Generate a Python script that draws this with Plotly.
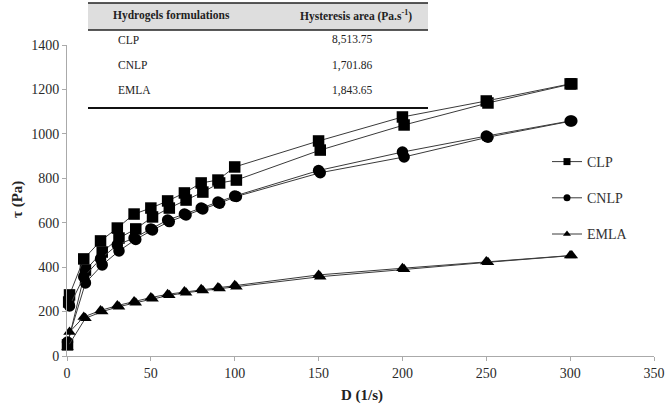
import plotly.graph_objects as go

# ---- data ----
clp_up_D = [0.3, 11, 21, 31, 41, 51, 61, 71, 81, 91, 101, 151, 201, 251, 301]
clp_up_T = [50, 387, 468, 531, 572, 626, 666, 702, 738, 779, 792, 927, 1040, 1139, 1225]
clp_dn_D = [300, 250, 200, 150, 100, 90, 80, 70, 60, 50, 40, 30, 20, 10, 1.5, 1]
clp_dn_T = [1225, 1148, 1076, 968, 851, 792, 779, 734, 698, 666, 639, 576, 518, 437, 275, 243]

cnlp_up_D = [0.3, 11, 21, 31, 41, 51, 61, 71, 81, 91, 101, 151, 201, 251, 301]
cnlp_up_T = [63, 329, 410, 473, 525, 567, 605, 635, 662, 688, 718, 825, 896, 985, 1058]
cnlp_dn_D = [300, 250, 200, 150, 100, 90, 80, 70, 60, 50, 40, 30, 20, 10, 1.5]
cnlp_dn_T = [1058, 990, 918, 835, 720, 693, 666, 639, 612, 572, 531, 500, 437, 356, 225]

emla_up_D = [0.3, 11, 21, 31, 41, 51, 61, 71, 81, 91, 101, 151, 201, 251, 301]
emla_up_T = [40, 170, 200, 222, 240, 258, 273, 285, 295, 304, 312, 357, 390, 422, 452]
emla_dn_D = [300, 250, 200, 150, 100, 90, 80, 70, 60, 50, 40, 30, 20, 10, 1.5]
emla_dn_T = [452, 425, 395, 365, 318, 308, 300, 290, 278, 263, 245, 227, 205, 176, 108]

series_names = ["CLP", "CNLP", "EMLA"]
table_header = ["Hydrogels formulations", "Hysteresis area (Pa.s<sup>-1</sup>)"]
table_values = ["8,513.75", "1,701.86", "1,843.65"]

x_ticks = [0, 50, 100, 150, 200, 250, 300, 350]
y_ticks = [0, 200, 400, 600, 800, 1000, 1200, 1400]

FONT = "Liberation Serif"
LINE = dict(color="#3a3a3a", width=1)

fig = go.Figure()

loops = [
    ("CLP", "square", 11.5, clp_up_D, clp_up_T, clp_dn_D, clp_dn_T),
    ("CNLP", "circle", 11.5, cnlp_up_D, cnlp_up_T, cnlp_dn_D, cnlp_dn_T),
    ("EMLA", "triangle-up", 11, emla_up_D, emla_up_T, emla_dn_D, emla_dn_T),
]
for name, sym, sz, uD, uT, dD, dT in loops:
    for xs, ys in ((uD, uT), (dD, dT)):
        fig.add_trace(go.Scatter(
            x=xs, y=ys, mode="lines+markers", showlegend=False,
            line=LINE, marker=dict(symbol=sym, size=sz, color="black"),
            cliponaxis=False,
        ))

# legend entries (smaller markers as in the reference)
for i, (name, sym, *_rest) in enumerate(loops):
    fig.add_trace(go.Scatter(
        x=[None], y=[None], mode="lines+markers", name=name,
        legendgroup=name, line=LINE,
        marker=dict(symbol=sym, size=7, color="black"),
    ))

# ---- pixel helpers for paper coords (plot area 67..654 x, 45..356 y) ----
def px_x(p):
    return (p - 67) / 587.0

def px_y(p):
    return (356 - p) / 311.0

shapes = [
    dict(type="rect", xref="paper", yref="paper", x0=px_x(88), x1=px_x(428),
         y0=px_y(30), y1=px_y(3), fillcolor="#dedede", line=dict(width=0), layer="below"),
    dict(type="line", xref="paper", yref="paper", x0=px_x(88), x1=px_x(428),
         y0=px_y(3), y1=px_y(3), line=dict(color="#222", width=1.5)),
    dict(type="line", xref="paper", yref="paper", x0=px_x(88), x1=px_x(428),
         y0=px_y(30), y1=px_y(30), line=dict(color="#222", width=1.5)),
    dict(type="line", xref="paper", yref="paper", x0=px_x(88), x1=px_x(428),
         y0=px_y(108), y1=px_y(108), line=dict(color="#111", width=2)),
]

ann = [
    dict(text="<b>" + table_header[0] + "</b>", x=px_x(111), y=px_y(15),
         xanchor="left", yanchor="middle"),
    dict(text="<b>" + table_header[1] + "</b>", x=px_x(298), y=px_y(15),
         xanchor="left", yanchor="middle"),
]
row_y = [40, 65, 90]
for nm, val, ry in zip(series_names, table_values, row_y):
    ann.append(dict(text=nm, x=px_x(116), y=px_y(ry), xanchor="left", yanchor="middle"))
    ann.append(dict(text=val, x=px_x(352), y=px_y(ry), xanchor="center", yanchor="middle"))
for a in ann:
    a.update(xref="paper", yref="paper", showarrow=False,
             font=dict(family=FONT, size=11.5, color="#222"))

# axis titles as annotations
ann.append(dict(text="<b>D (1/s)</b>", x=px_x(362), y=px_y(395), xref="paper", yref="paper",
                showarrow=False, xanchor="center", yanchor="middle",
                font=dict(family=FONT, size=15, color="#222")))
ann.append(dict(text="<b>τ (Pa)</b>", x=px_x(17), y=px_y(200), xref="paper", yref="paper",
                showarrow=False, xanchor="center", yanchor="middle", textangle=-90,
                font=dict(family=FONT, size=15, color="#222")))

fig.update_layout(
    width=666, height=408,
    margin=dict(l=67, r=12, t=45, b=52, autoexpand=False),
    paper_bgcolor="white", plot_bgcolor="white",
    font=dict(family=FONT, size=13, color="#333"),
    shapes=shapes, annotations=ann,
    legend=dict(x=px_x(547), y=px_y(146), xanchor="left", yanchor="top",
                font=dict(family=FONT, size=14, color="#333"),
                itemwidth=30, tracegroupgap=15, traceorder="grouped",
                bgcolor="rgba(0,0,0,0)"),
    showlegend=True,
)
fig.update_xaxes(
    range=[0, 350], tickvals=x_ticks, ticks="outside", ticklen=4, tickcolor="#aaa",
    showline=True, linecolor="#aaa", linewidth=1, showgrid=False, zeroline=False,
    automargin=False,
    tickfont=dict(family=FONT, size=14, color="#2a2a2a"),
)
fig.update_yaxes(
    range=[0, 1400], tickvals=y_ticks, ticks="outside", ticklen=4, tickcolor="#aaa",
    showline=True, linecolor="#aaa", linewidth=1, showgrid=False, zeroline=False,
    automargin=False,
    tickfont=dict(family=FONT, size=14, color="#2a2a2a"),
)

fig.write_html(
    "out.html",
    config={"displayModeBar": False},
    post_script="document.body.style.margin='0';document.body.style.overflow='hidden';",
)
